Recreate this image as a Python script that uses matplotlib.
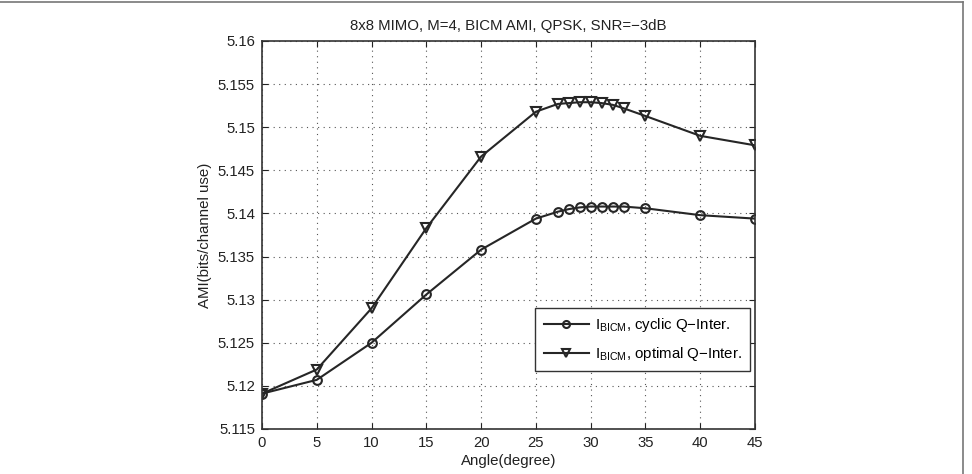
import matplotlib
matplotlib.use('Agg')
from matplotlib import pyplot as plt
from matplotlib.lines import Line2D

plt.rcParams['font.family'] = ['Liberation Sans', 'DejaVu Sans']
plt.rcParams['mathtext.fontset'] = 'custom'
plt.rcParams['mathtext.rm'] = 'Liberation Sans'
plt.rcParams['axes.unicode_minus'] = True

angles = [0, 5, 10, 15, 20, 25, 27, 28, 29, 30, 31, 32, 33, 35, 40, 45]
ami_cyclic = [5.1191, 5.1207, 5.1250, 5.1306, 5.1358, 5.1394, 5.1402, 5.1405,
              5.1407, 5.1408, 5.1408, 5.1408, 5.1408, 5.1406, 5.1398, 5.1394]
ami_optimal = [5.1191, 5.1219, 5.1290, 5.1383, 5.1466, 5.1518, 5.1527, 5.1528,
               5.1529, 5.1529, 5.1528, 5.1526, 5.1522, 5.1513, 5.1490, 5.1479]
xticks = list(range(0, 50, 5))
yticks = [5.115, 5.12, 5.125, 5.13, 5.135, 5.14, 5.145, 5.15, 5.155, 5.16]
ytick_labels = ['5.115', '5.12', '5.125', '5.13', '5.135', '5.14', '5.145', '5.15', '5.155', '5.16']


def main():
    fig = plt.figure(figsize=(9.72, 4.74), dpi=100)
    ax = fig.add_axes([262 / 972, 1 - 429 / 474, (755 - 262) / 972, (429 - 41) / 474])

    c = '#262626'
    ax.plot(angles, ami_cyclic, color=c, lw=1.5, marker='o', ms=6.3,
            mfc='none', mew=1.5, label=r'$\mathrm{I}_{\mathrm{BICM}}$, cyclic Q$-$Inter.')
    ax.plot(angles, ami_optimal, color=c, lw=1.5, marker='v', ms=7.2,
            mfc='none', mew=1.5, label=r'$\mathrm{I}_{\mathrm{BICM}}$, optimal Q$-$Inter.')

    ax.set_xlim(0, 45)
    ax.set_ylim(5.115, 5.16)
    ax.set_xticks(xticks)
    ax.set_yticks(yticks)
    ax.set_yticklabels(ytick_labels)
    ax.tick_params(direction='in', labelsize=10.7, colors='#222222', length=4,
                   top=True, right=True)
    ax.tick_params(axis='x', pad=5)
    ax.tick_params(axis='y', pad=5)
    ax.grid(True, linestyle=(0, (1, 4)), color='#555555', lw=0.8)
    for s in ax.spines.values():
        s.set_color('#333333')
        s.set_linewidth(1.2)

    ax.set_xlabel('Angle(degree)', fontsize=10.8, color='#222222', labelpad=3)
    ax.set_ylabel('AMI(bits/channel use)', fontsize=10.8, color='#222222', labelpad=4)
    ax.set_title('8x8 MIMO, M=4, BICM AMI, QPSK, SNR=\u22123dB', fontsize=10.8,
                 color='#222222', pad=8)

    leg = ax.legend(loc='lower right', bbox_to_anchor=((750 - 262) / 493, (429 - 371) / 388),
                    borderaxespad=0, fontsize=10.8, fancybox=False, framealpha=1,
                    edgecolor='#333333', handlelength=3.0, handletextpad=0.4,
                    borderpad=0.55, labelspacing=0.7, markerscale=0.8)
    leg.get_frame().set_linewidth(1.0)

    # thin gray frame around the picture
    fig.add_artist(Line2D([0, 963 / 972], [1 - 2 / 474, 1 - 2 / 474],
                          transform=fig.transFigure, color='#777777', lw=1.2))
    fig.add_artist(Line2D([963 / 972, 963 / 972], [0, 1 - 2 / 474],
                          transform=fig.transFigure, color='#777777', lw=1.2))

    fig.savefig('out.png', dpi=100)


if __name__ == '__main__':
    main()
